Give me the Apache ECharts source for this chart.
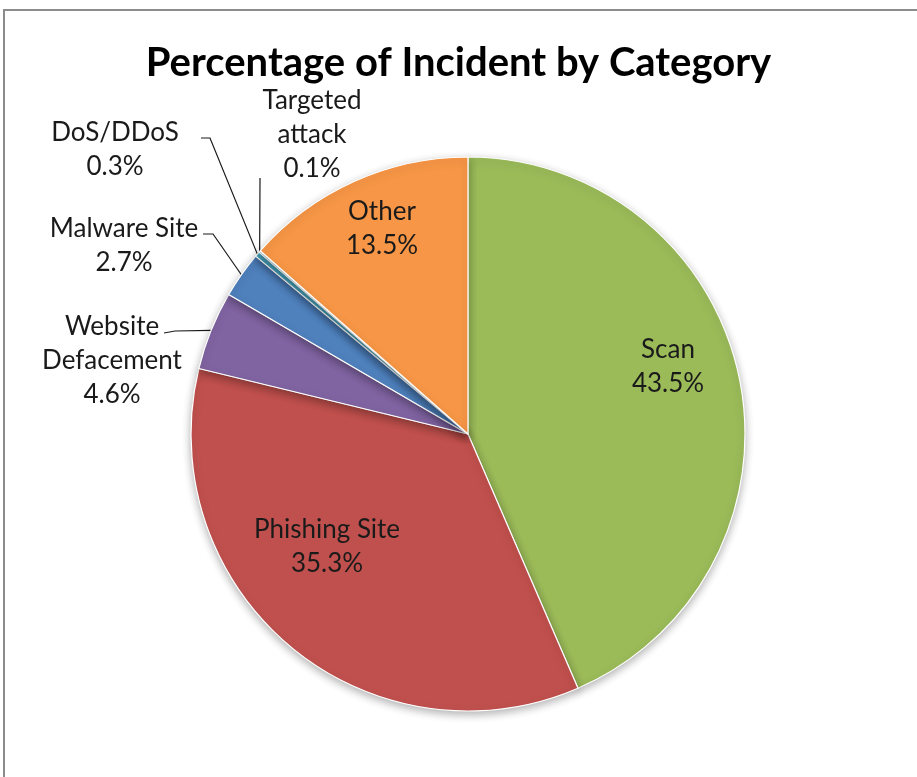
<!DOCTYPE html>
<html>
<head>
<meta charset="utf-8">
<script src="https://cdn.jsdelivr.net/npm/echarts@6/dist/echarts.min.js"></script>
<style>
  html, body { margin: 0; padding: 0; background: #fff; }
  #main { width: 917px; height: 777px; }
</style>
</head>
<body>
<div id="main"></div>
<script>
// 数据
var categories = ['Scan', 'Phishing Site', 'Website\nDefacement', 'Malware Site', 'DoS/DDoS', 'Targeted\nattack', 'Other'];
var values = [43.5, 35.3, 4.6, 2.7, 0.3, 0.1, 13.5];
var colors = ['#9BBB59', '#C0504D', '#8064A2', '#4F81BD', '#4BACC6', '#93CDDD', '#F79646'];

// 标签位置 (中心点) 和引导线拐点
var labelCenters = [[668, 367], [327, 547], [112, 361], [124, 246], [115, 150], [312, 135], [382, 229]];
var elbows = [null, null, [[175, 331], [164, 333]], [[213, 234], [203, 234]], [[210, 138], [201, 138]], [[260, 180], [260, 178]], null];

var chart = echarts.init(document.getElementById('main'), null, { renderer: 'canvas' });

var font = 'Lato, "Noto Sans", sans-serif';

var option = {
    backgroundColor: '#fff',
    animation: false,
    title: {
        text: 'Percentage of Incident by Category',
        left: 'center',
        top: 38,
        textStyle: {
            fontFamily: font,
            fontWeight: 'bold',
            fontSize: 40,
            color: '#000'
        }
    },
    graphic: [{
        type: 'rect',
        shape: { x: 4, y: 10, width: 960, height: 820 },
        style: { fill: 'none', stroke: '#8c8c8c', lineWidth: 2 },
        silent: true
    }],
    series: [{
        type: 'pie',
        center: [468, 434],
        radius: 277,
        startAngle: 90,
        clockwise: true,
        avoidLabelOverlap: false,
        data: categories.map(function (name, i) {
            return {
                name: name,
                value: values[i],
                itemStyle: { color: colors[i] },
                labelLine: { show: elbows[i] !== null }
            };
        }),
        itemStyle: {
            borderColor: '#fff',
            borderWidth: 1.2,
            shadowBlur: 8,
            shadowOffsetY: 3,
            shadowColor: 'rgba(0,0,0,0.3)'
        },
        label: {
            show: true,
            position: 'outside',
            formatter: function (p) { return p.name + '\n' + p.value.toFixed(1) + '%'; },
            fontFamily: font,
            fontSize: 26,
            lineHeight: 34,
            color: '#1a1a1a',
            align: 'center'
        },
        labelLine: {
            lineStyle: { color: '#1a1a1a', width: 1.2 }
        },
        labelLayout: function (params) {
            var i = params.dataIndex;
            var c = labelCenters[i];
            var out = {
                x: c[0],
                y: c[1],
                align: 'center',
                verticalAlign: 'middle'
            };
            if (elbows[i] && params.labelLinePoints) {
                out.labelLinePoints = [params.labelLinePoints[0], elbows[i][0], elbows[i][1]];
            }
            return out;
        }
    }]
};

chart.setOption(option);
</script>
</body>
</html>
